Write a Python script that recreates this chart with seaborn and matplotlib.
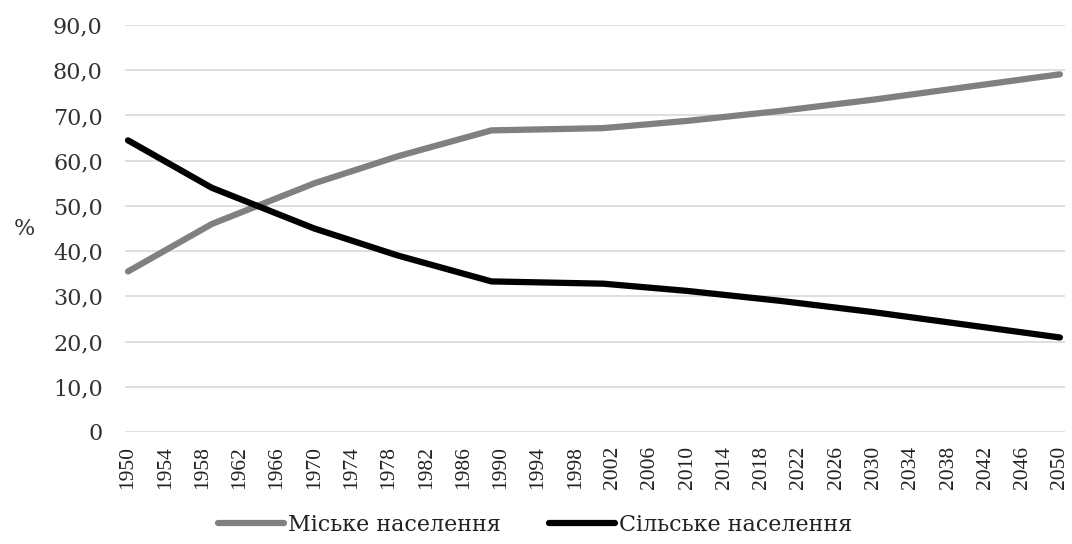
import numpy as np
import pandas as pd
import matplotlib
matplotlib.use("Agg")
import matplotlib.pyplot as plt
import seaborn as sns

years = [1950, 1959, 1970, 1979, 1989, 2001, 2010, 2020, 2030, 2040, 2050]
urban = [35.5, 46.0, 55.0, 61.0, 66.7, 67.2, 68.8, 71.0, 73.5, 76.3, 79.1]
rural = [64.5, 54.0, 45.0, 39.0, 33.3, 32.8, 31.2, 29.0, 26.5, 23.7, 20.9]
series_names = ["Міське населення", "Сільське населення"]
series_colors = ["#808080", "#000000"]
x_ticks = list(range(1950, 2051, 4))
y_ticks = [0, 10, 20, 30, 40, 50, 60, 70, 80, 90]
y_tick_labels = ["0"] + [f"{v},0" for v in y_ticks[1:]]

df = pd.DataFrame({
    "year": years * 2,
    "value": urban + rural,
    "series": [series_names[0]] * len(years) + [series_names[1]] * len(years),
})

sns.set_theme(style="white")
plt.rcParams["font.family"] = ["Liberation Serif", "DejaVu Serif"]
wide = ["DejaVu Serif", "Liberation Serif"]

fig = plt.figure(figsize=(10.72, 5.44), dpi=100)
ax = fig.add_axes([0.1166, 0.2059, 0.8769, 0.7481])

sns.lineplot(data=df, x="year", y="value", hue="series", hue_order=series_names,
             palette=series_colors, linewidth=4.5, ax=ax, legend=True,
             solid_capstyle="round", solid_joinstyle="round")

ax.set_xlim(1949.68, 2050.55)
ax.set_ylim(0, 90)
ax.set_xticks(x_ticks)
ax.set_xticklabels([str(t) for t in x_ticks], rotation=90, fontsize=15.5, color="#222222")
ax.set_yticks(y_ticks)
ax.set_yticklabels(y_tick_labels, fontsize=16, color="#333333", family=wide)
ax.tick_params(axis="y", length=0, pad=16)
ax.tick_params(axis="x", length=0, pad=10)
ax.yaxis.grid(True, color="#d9d9d9", linewidth=1.2)
ax.xaxis.grid(False)
for s in ax.spines.values():
    s.set_visible(False)
ax.set_xlabel("")
ax.set_ylabel("%", rotation=0, fontsize=16, color="#333333", family=wide, va="center", ha="center")
ax.yaxis.set_label_coords(-0.107, 0.50)

handles, labels = ax.get_legend_handles_labels()
leg = ax.legend(handles, labels, loc="center", ncol=2, frameon=False,
                prop={"family": wide, "size": 16}, handlelength=3.0,
                handletextpad=0.18, columnspacing=2.15,
                bbox_to_anchor=(535 / 1072, 1 - 525 / 544), bbox_transform=fig.transFigure)
for t in leg.get_texts():
    t.set_color("#222222")
for line in leg.get_lines():
    line.set_linewidth(4.5)

fig.savefig("out.png", dpi=100, facecolor="white")
